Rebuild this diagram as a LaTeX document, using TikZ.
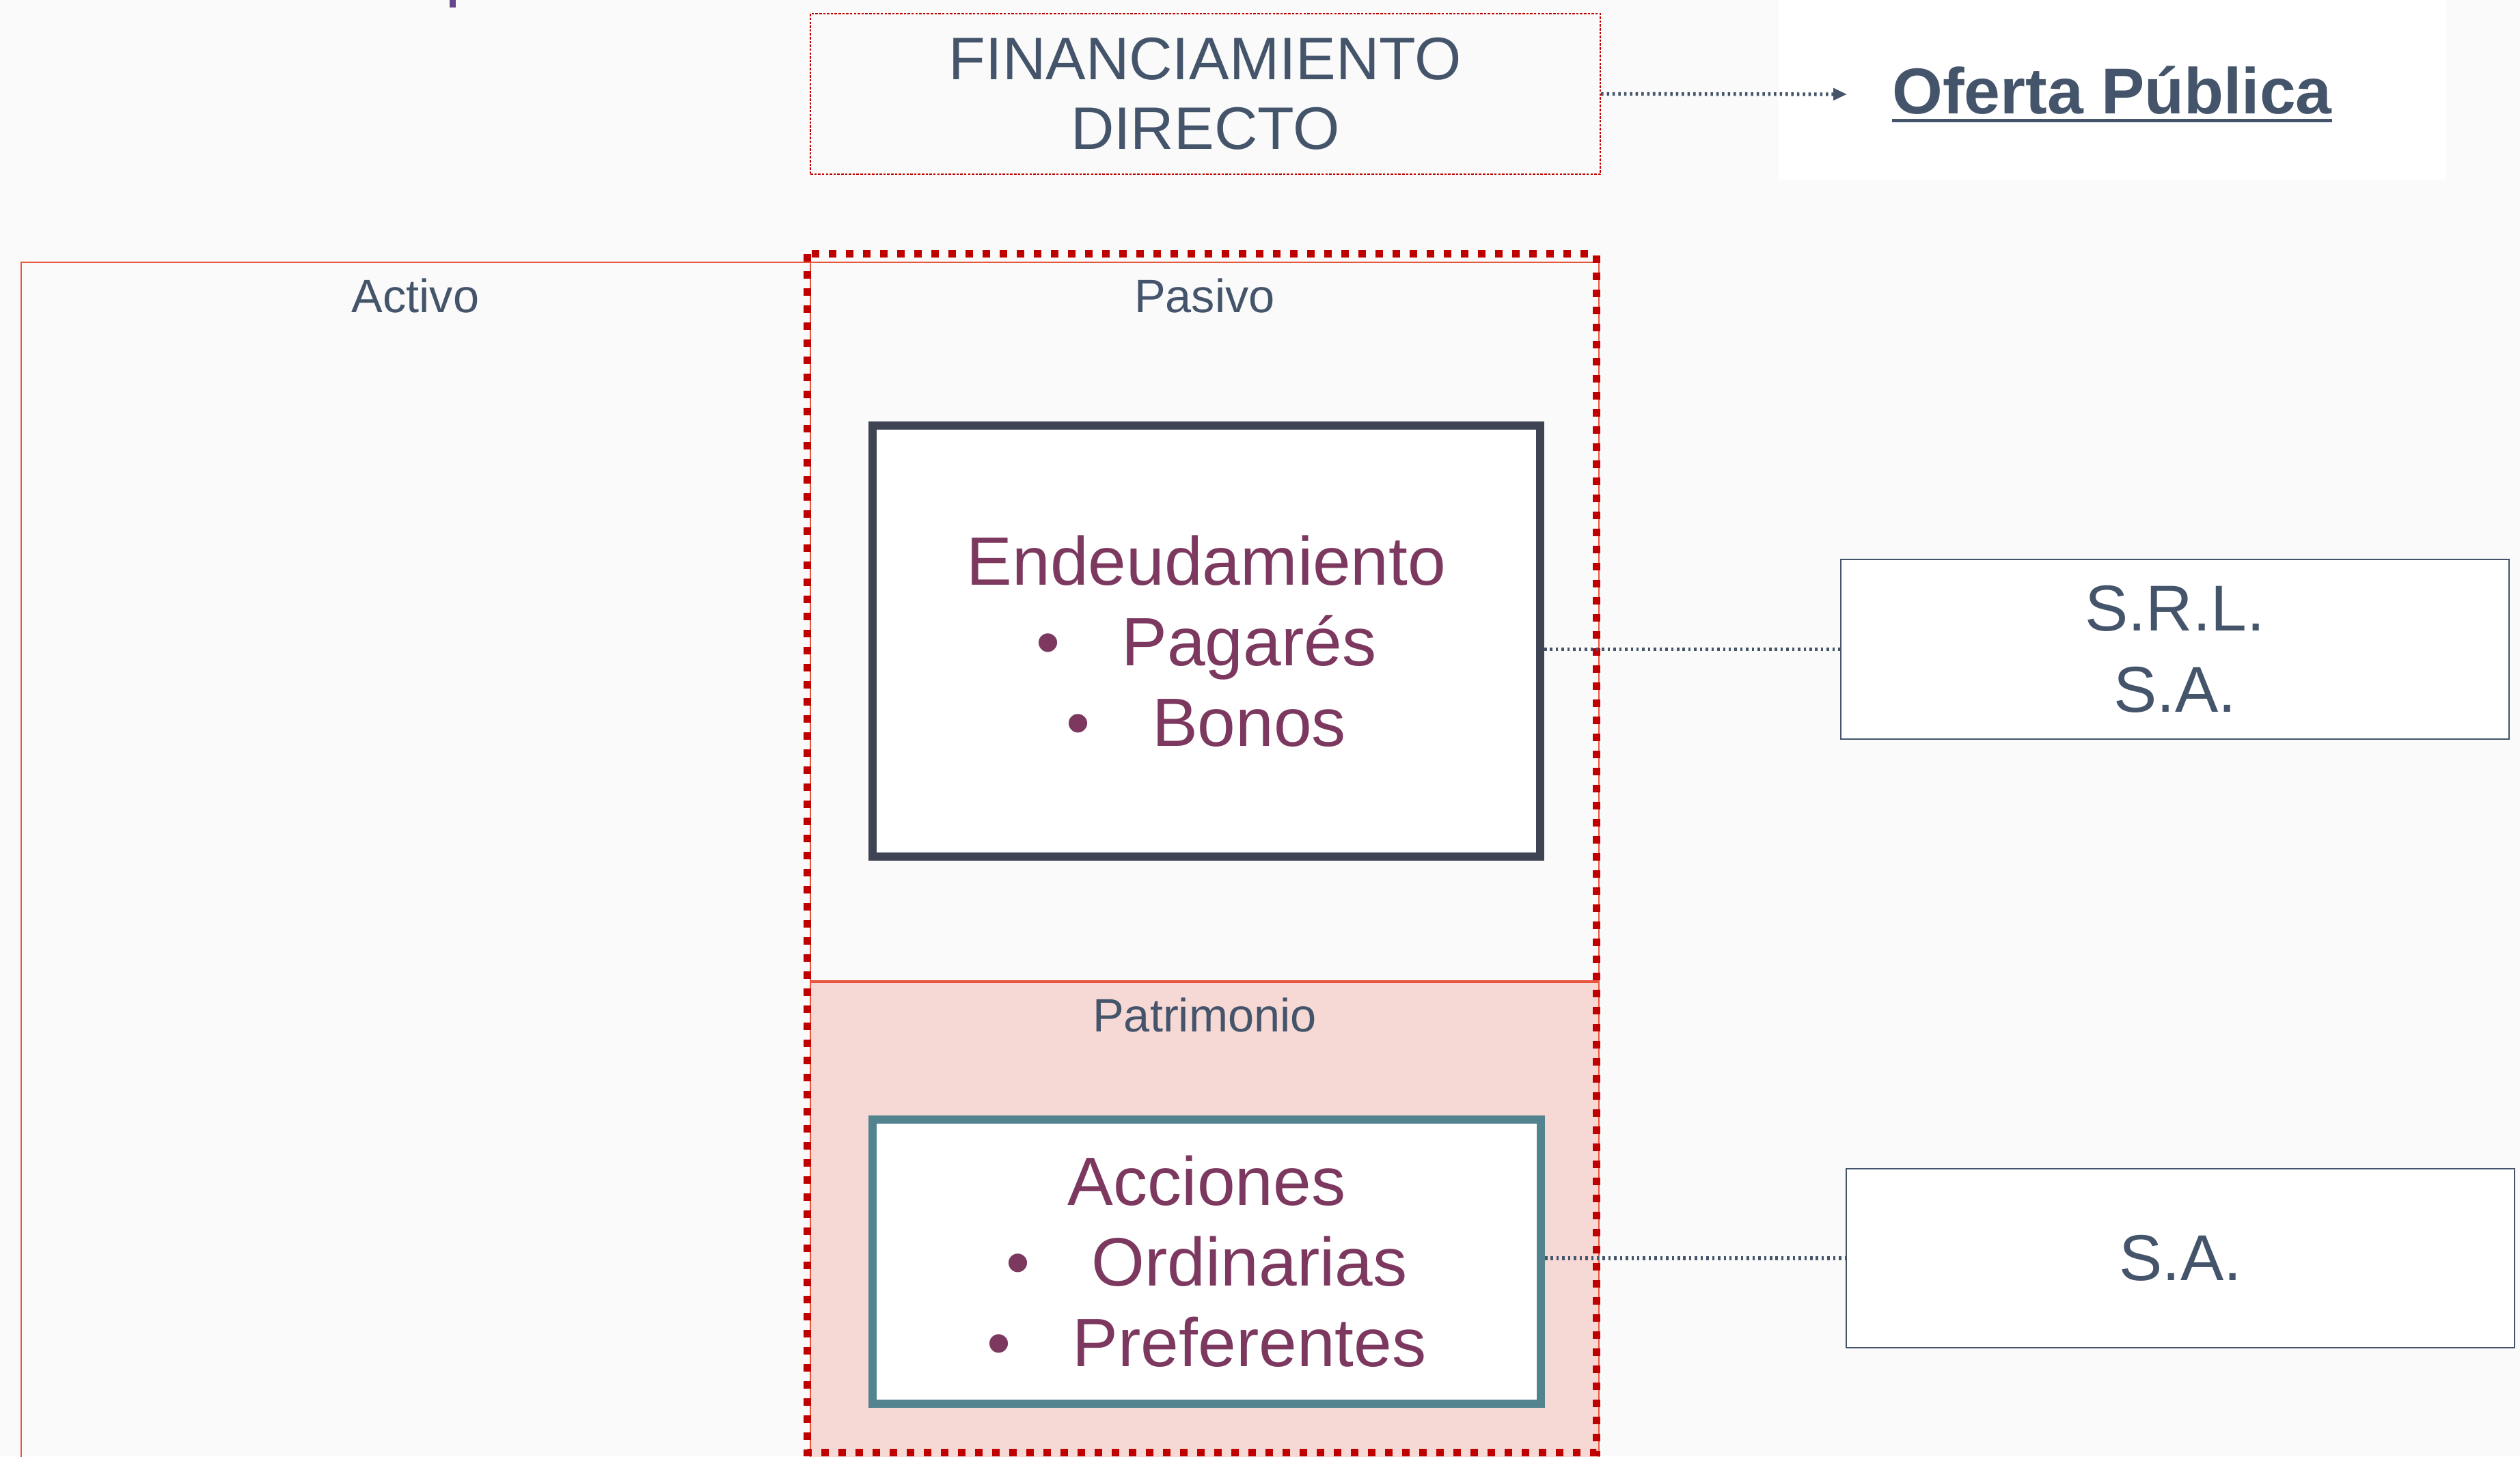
\documentclass[tikz,border=0pt]{standalone}
\usepackage{fontspec}
\setmainfont{Liberation Sans}
\usetikzlibrary{arrows.meta}
\definecolor{slate}{RGB}{68,84,106}
\definecolor{darkslate}{RGB}{62,68,84}
\definecolor{plum}{RGB}{124,56,94}
\definecolor{tealline}{RGB}{82,131,143}
\definecolor{darkred}{RGB}{192,0,0}
\definecolor{coral}{RGB}{232,86,64}
\definecolor{pinkfill}{RGB}{246,216,213}
\definecolor{bggray}{RGB}{250,250,250}
\definecolor{titlepurple}{RGB}{102,70,140}
\begin{document}
\begin{tikzpicture}[
      colhead/.style={text=slate, anchor=base, font=\fontsize{19.5}{23}\selectfont},
      itembox/.style={draw, line width=0.12cm, fill=white, text=plum, align=center, font=\fontsize{28.5}{33.6}\selectfont},
      typebox/.style={draw=slate, line width=0.6pt, fill=white, text=slate, align=center, minimum width=9.78cm, minimum height=2.62cm, font=\fontsize{27}{34}\selectfont},
      finbox/.style={draw=darkred, line width=0.6pt, dash pattern=on 1pt off 0.6pt, text=slate, align=center, font=\fontsize{25}{29}\selectfont},
      link/.style={slate, line width=1.5pt, dash pattern=on 1pt off 1.4pt}]
            \useasboundingbox (0,0) rectangle (36.88,21.32);
            \fill[bggray] (0,0) rectangle (36.88,21.32);
            \clip (0,0) rectangle (36.88,21.32);
%           	\draw[help lines] (0,0) grid (36, 21);
            \fill[white] (26.03,21.40) rectangle (35.79,18.69);
            \fill[titlepurple] (6.58,21.40) rectangle (6.67,21.21);
            % balance sheet
            \draw[coral, line width=0.7pt] (0.31,17.48) rectangle (11.86,-1);
            \fill[pinkfill] (11.86,6.95) rectangle (23.40,-1);
            \draw[coral, line width=0.7pt] (11.86,17.48) rectangle (23.40,-1);
            \draw[coral, line width=1.1pt] (11.86,6.95) -- (23.40,6.95);
            \draw[darkred, line width=0.11cm, dash pattern=on 0.11cm off 0.14cm] (11.81,17.60) rectangle (23.36,0.06);
            \node[colhead] (activo) at (6.08,16.74) {Activo};
            \node[colhead] (pasivo) at (17.63,16.74) {Pasivo};
            \node[colhead] (patrimonio) at (17.63,6.22) {Patrimonio};
            % top row
            \node[finbox, minimum width=11.56cm, minimum height=2.35cm] (fin) at (17.64,19.945) {FINANCIAMIENTO\\DIRECTO};
            \node[anchor=base, inner sep=0pt, text=slate, font=\fontsize{27}{32}\selectfont\bfseries] (oferta) at (30.91,19.65) {Oferta Pública};
            \draw[slate, line width=1.4pt] ([yshift=-0.095cm]oferta.base west) -- ([yshift=-0.095cm]oferta.base east);
            \coordinate (tip) at (27.03,19.94);
            \draw[link, -{Triangle[length=0.2cm, width=0.17cm]}] (fin.east) -- (tip);
            % instruments
            \node[itembox, draw=darkslate, minimum width=9.77cm, minimum height=6.31cm] (endeu) at (17.655,11.935) {Endeudamiento\\\textbullet\hspace{0.9em}Pagarés\\\textbullet\hspace{0.9em}Bonos};
            \node[itembox, draw=tealline, minimum width=9.78cm, minimum height=4.16cm] (acc) at (17.66,2.85) {Acciones\\\textbullet\hspace{0.9em}Ordinarias\\\textbullet\hspace{0.9em}Preferentes};
            \node[typebox, minimum height=2.63cm] (srl) at (31.83,11.815) {S.R.L.\\S.A.};
            \node[typebox] (sa) at (31.91,2.90) {S.A.};
            \draw[link] (endeu.east |- srl.west) -- (srl.west);
            \draw[link] (acc.east |- sa.west) -- (sa.west);
\end{tikzpicture}
\end{document}
